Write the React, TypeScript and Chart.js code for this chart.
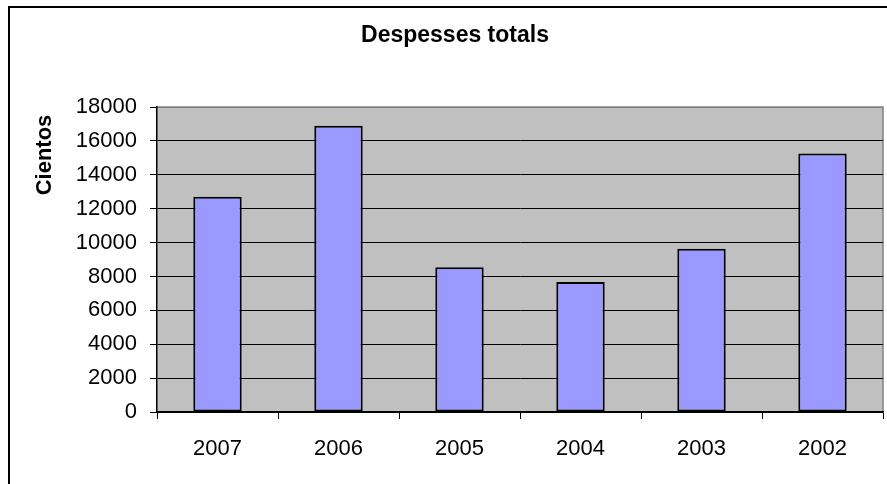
import React, { useEffect, useRef } from "react";
import { Chart, registerables } from "chart.js";

Chart.register(...registerables);

const categories = ["2007", "2006", "2005", "2004", "2003", "2002"];
const values = [12700, 16900, 8550, 7670, 9640, 15250];
const chartTitle = "Despesses totals";
const yAxisTitle = "Cientos";
const yMin = 0;
const yMax = 18000;
const yStep = 2000;

const FONT = "'Liberation Sans', Arial, Helvetica, sans-serif";

const decorPlugin = {
  id: "decor",
  beforeDraw(chart: any) {
    const { ctx, chartArea } = chart;
    ctx.save();
    ctx.fillStyle = "#ffffff";
    ctx.fillRect(0, 0, chart.width, chart.height);
    ctx.fillStyle = "#C0C0C0";
    ctx.fillRect(chartArea.left, chartArea.top, chartArea.right - chartArea.left, chartArea.bottom - chartArea.top);
    ctx.strokeStyle = "#808080";
    ctx.lineWidth = 1.5;
    ctx.beginPath();
    ctx.moveTo(chartArea.left, chartArea.top);
    ctx.lineTo(chartArea.right, chartArea.top);
    ctx.lineTo(chartArea.right, chartArea.bottom);
    ctx.stroke();
    ctx.restore();
  },
  afterDraw(chart: any) {
    const { ctx, chartArea } = chart;
    ctx.save();
    // outer frame (left and top edges)
    ctx.fillStyle = "#000";
    ctx.fillRect(8, 6, 2, chart.height - 6);
    ctx.fillRect(8, 6, chart.width - 8, 2);
    // title
    ctx.font = `bold 23px ${FONT}`;
    ctx.textAlign = "center";
    ctx.textBaseline = "middle";
    ctx.fillText(chartTitle, 455, 36);
    // y axis title
    ctx.font = `bold 22px ${FONT}`;
    ctx.translate(chartArea.left - 112, chartArea.top + 48);
    ctx.rotate(-Math.PI / 2);
    ctx.fillText(yAxisTitle, 0, 0);
    ctx.restore();
  },
};

export default function App() {
  const ref = useRef<HTMLCanvasElement | null>(null);
  useEffect(() => {
    if (!ref.current) return;
    const chart = new Chart(ref.current, {
      type: "bar",
      data: {
        labels: categories,
        datasets: [
          {
            data: values,
            backgroundColor: "#9999FF",
            borderColor: "#000000",
            borderWidth: 2,
            borderSkipped: false,
            barPercentage: 0.4,
            categoryPercentage: 1.0,
          },
        ],
      },
      options: {
        responsive: false,
        animation: false,
        devicePixelRatio: 1,
        layout: { padding: { left: 0, top: 107, right: 4, bottom: 0 } },
        plugins: {
          legend: { display: false },
          title: { display: false },
          tooltip: { enabled: false },
        },
        scales: {
          x: {
            offset: true,
            grid: {
              offset: true,
              drawOnChartArea: false,
              drawTicks: true,
              tickLength: 7,
              tickColor: "#000",
              color: "#000",
            },
            border: { color: "#000", width: 1.5 },
            ticks: {
              color: "#000",
              font: { family: FONT, size: 22 },
              padding: 17,
              maxRotation: 0,
            },
            afterFit(scale: any) {
              scale.height = 72;
            },
          },
          y: {
            min: yMin,
            max: yMax,
            grid: {
              color: (c: any) => (c.tick && c.tick.value === yMax ? "#808080" : "#000"),
              tickColor: "#000",
              tickLength: 7,
              lineWidth: 1,
            },
            border: { color: "#000", width: 1.5 },
            ticks: {
              stepSize: yStep,
              color: "#000",
              font: { family: FONT, size: 22 },
              padding: 13,
              callback: (v: any) => String(v),
            },
            afterFit(scale: any) {
              scale.width = 157;
            },
          },
        },
      },
      plugins: [decorPlugin],
    });
    return () => chart.destroy();
  }, []);
  return (
    <div style={{ position: "fixed", left: 0, top: 0, width: 887, height: 484, background: "#fff" }}>
      <canvas ref={ref} width={887} height={484} style={{ display: "block" }} />
    </div>
  );
}
